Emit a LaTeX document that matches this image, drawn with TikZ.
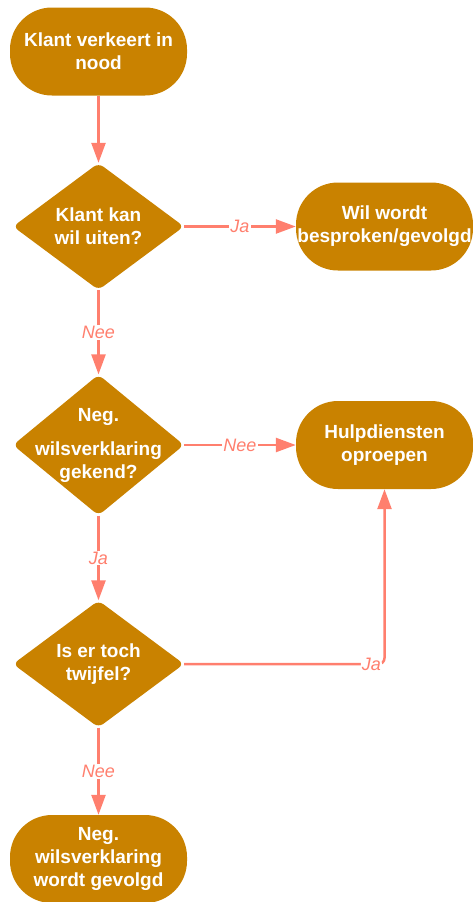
\documentclass[tikz,border=0pt]{standalone}
\usepackage{fontspec}
\setmainfont{Liberation Sans}
\usetikzlibrary{shapes.geometric,arrows.meta,positioning}

\definecolor{okerbruin}{RGB}{201,130,0}
\definecolor{zalm}{RGB}{255,127,110}

\tikzset{
  blok/.style={fill=okerbruin,text=white,font=\fontsize{19}{23}\selectfont\bfseries,
    align=center,inner sep=0pt,minimum width=177pt,minimum height=88pt,rounded corners=42pt},
  keuze/.style={diamond,fill=okerbruin,text=white,font=\fontsize{19}{23}\selectfont\bfseries,
    align=center,inner sep=-15pt,minimum width=171pt,minimum height=127pt,rounded corners=6pt},
  pijl/.style={draw=zalm,line width=2.5pt,-{Triangle[length=20pt,width=14pt]}},
  antw/.style={fill=white,text=zalm,font=\fontsize{18}{20}\selectfont\itshape,inner sep=1pt}
}

\begin{document}
\begin{tikzpicture}[x=1pt,y=-1pt]
  \useasboundingbox (0,0) rectangle (473,902);

  \node[blok] (start) at (98.5,51.5) {Klant verkeert in\\nood};

  \node[keuze] (vraag1) at (98.5,226.5) {Klant kan\\wil uiten?};
  \node[blok] (besproken) at (384.5,226.5) {Wil wordt\\besproken/gevolgd};

  \node[keuze] (vraag2) at (98.5,445) {Neg.\\[11pt]wilsverklaring\\gekend?};
  \node[blok] (hulp) at (384.5,445) {Hulpdiensten\\oproepen};

  \node[keuze] (vraag3) at (98.5,664) {Is er toch\\twijfel?};
  \node[blok] (einde) at (98.5,859) {Neg.\\wilsverklaring\\wordt gevolgd};

  \draw[pijl] (start) -- (vraag1);
  \draw[pijl] (vraag1) -- node[antw] {Ja} (besproken);
  \draw[pijl] (vraag1) -- node[antw] {Nee} (vraag2);
  \draw[pijl] (vraag2) -- node[antw] {Nee} (hulp);
  \draw[pijl] (vraag2) -- node[antw] {Ja} (vraag3);
  \draw[pijl] (vraag3) -- node[antw] {Nee} (einde);
  \draw[pijl,rounded corners=6pt] (vraag3.east) -| node[antw,pos=0.467] {Ja} (hulp.south);
\end{tikzpicture}
\end{document}
